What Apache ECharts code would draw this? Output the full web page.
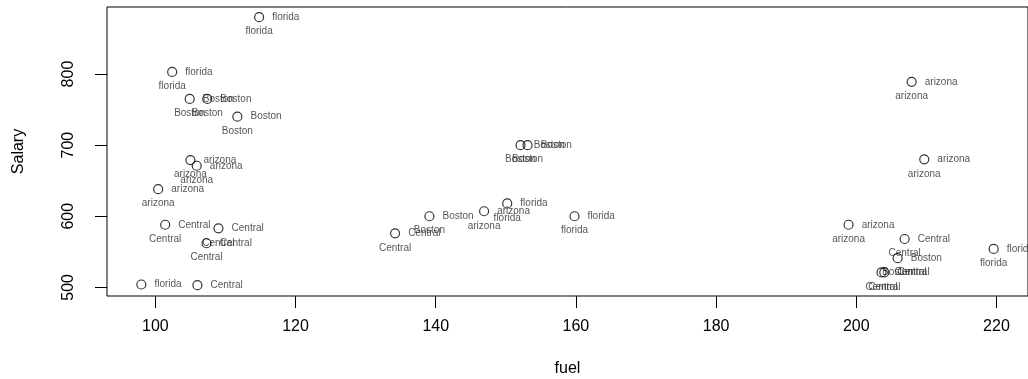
<!DOCTYPE html>
<html>
<head>
<meta charset="utf-8">
<script src="https://cdn.jsdelivr.net/npm/echarts@6/dist/echarts.min.js"></script>
<style>
  html, body { margin: 0; padding: 0; background: #fff; }
  #chart { width: 1028px; height: 379px; }
</style>
</head>
<body>
<div id="chart"></div>
<script>
// values
const fuel = [114.8, 102.4, 104.9, 107.4, 111.7, 105.0, 105.9, 100.4, 101.4, 109.0, 107.3, 98.0, 106.0,
  152.1, 153.1, 150.2, 146.9, 139.1, 134.2, 159.8,
  207.9, 209.7, 198.9, 206.9, 205.9, 203.6, 204.0, 219.6];
const salary = [880, 803, 765, 765, 740, 679, 671, 638, 588, 583, 562, 504, 503,
  700, 700, 618, 607, 600, 576, 600,
  789, 680, 588, 568, 541, 521, 521, 554];
const region = ['florida', 'florida', 'Boston', 'Boston', 'Boston', 'arizona', 'arizona', 'arizona',
  'Central', 'Central', 'Central', 'florida', 'Central',
  'Boston', 'Boston', 'florida', 'arizona', 'Boston', 'Central', 'florida',
  'arizona', 'arizona', 'arizona', 'Central', 'Boston', 'Central', 'Central', 'florida'];
const xTicks = [100, 120, 140, 160, 180, 200, 220];
const yTicks = [500, 600, 700, 800];

// labels under points this low fall outside the plot box and are clipped in the original
const lowLabelSalary = 510;

const points = fuel.map((f, i) => [f, salary[i], region[i]]);
const font = '"Liberation Sans", Arial, sans-serif';

const chart = echarts.init(document.getElementById('chart'));
chart.setOption({
  animation: false,
  grid: {
    left: 107,
    top: 7,
    width: 921,
    height: 289,
    show: true,
    borderColor: '#000',
    borderWidth: 1,
    containLabel: false,
    outerBoundsMode: 'none'
  },
  xAxis: {
    type: 'value',
    min: 93.1,
    max: 224.5,
    name: 'fuel',
    nameLocation: 'middle',
    nameGap: 65,
    nameTextStyle: { color: '#000', fontSize: 16, fontFamily: font },
    axisLine: { show: false },
    axisTick: { show: true, length: 12, customValues: xTicks, lineStyle: { color: '#000' } },
    axisLabel: { customValues: xTicks, color: '#000', fontSize: 16, fontFamily: font, margin: 23 },
    splitLine: { show: false }
  },
  yAxis: {
    type: 'value',
    min: 487.8,
    max: 894.3,
    name: 'Salary',
    nameLocation: 'middle',
    nameGap: 80,
    nameTextStyle: { color: '#000', fontSize: 16, fontFamily: font },
    axisLine: { show: false },
    axisTick: { show: true, length: 12, customValues: yTicks, lineStyle: { color: '#000' } },
    axisLabel: { customValues: yTicks, rotate: 90, color: '#000', fontSize: 16, fontFamily: font, margin: 30 },
    splitLine: { show: false }
  },
  series: [
    {
      type: 'scatter',
      data: points,
      symbol: 'circle',
      symbolSize: 9,
      itemStyle: { color: 'transparent', borderColor: '#000', borderWidth: 1.2 },
      label: {
        show: true,
        position: 'right',
        distance: 8,
        formatter: p => p.value[2],
        color: '#2a2a2a',
        fontSize: 10,
        fontFamily: font
      },
      emphasis: { disabled: true },
      z: 3
    },
    {
      type: 'scatter',
      data: points.map(p => ({
        value: p,
        label: { show: p[1] > lowLabelSalary }
      })),
      symbol: 'circle',
      symbolSize: 9,
      itemStyle: { color: 'transparent', borderWidth: 0 },
      label: {
        position: 'bottom',
        distance: 5,
        formatter: p => p.value[2],
        color: '#2a2a2a',
        fontSize: 10,
        fontFamily: font
      },
      emphasis: { disabled: true },
      z: 2
    }
  ]
});
</script>
</body>
</html>
